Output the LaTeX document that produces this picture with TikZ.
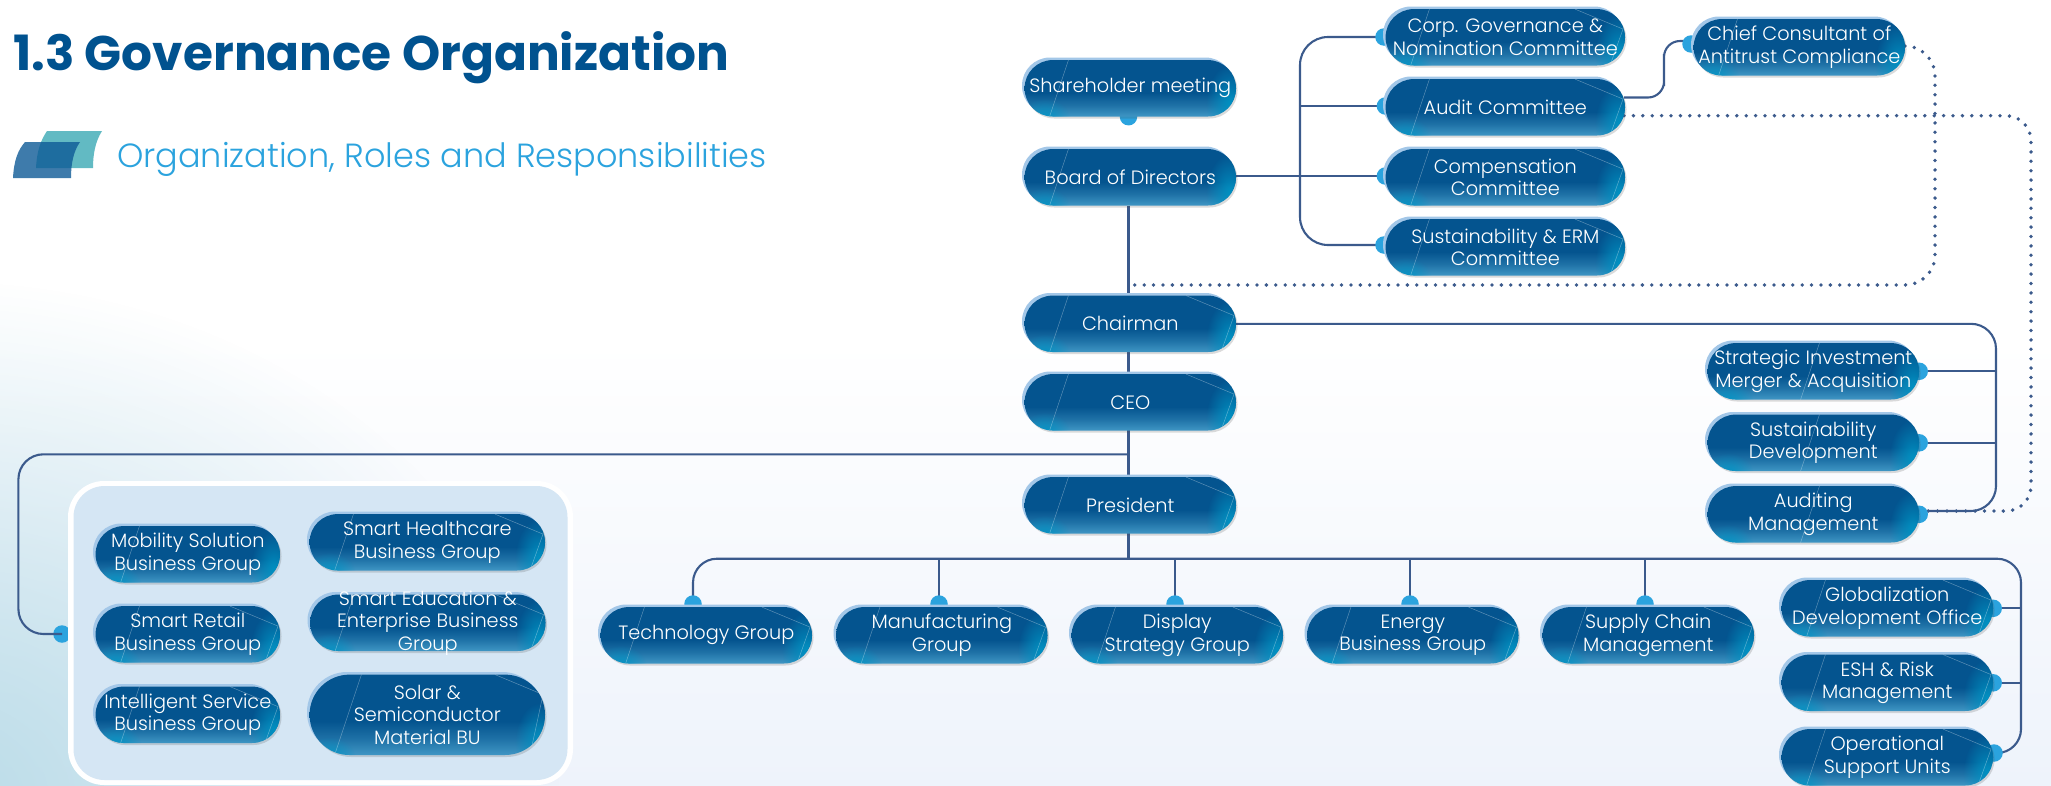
\documentclass[tikz,border=0pt]{standalone}
\usepackage{fontspec}
\setmainfont{Poppins}
\newfontfamily\pilllight{Poppins Light}
\usetikzlibrary{shadows,fadings,calc}
\definecolor{pillbase}{HTML}{04548F}
\definecolor{pillglow}{HTML}{3F96C4}
\definecolor{pillteal}{HTML}{0091C2}
\definecolor{pillrim}{HTML}{A3C7E8}
\definecolor{linkblue}{HTML}{3B5A8C}
\definecolor{dotblue}{HTML}{2BA3DE}
\definecolor{titleblue}{HTML}{00528F}
\definecolor{panelblue}{HTML}{D5E6F4}
\definecolor{cornerblue}{HTML}{BADCE8}
\definecolor{floorblue}{HTML}{EEF3FB}
\definecolor{iconback}{HTML}{62BAC3}
\definecolor{iconfront}{HTML}{0E5A96}
\pgfdeclarelayer{sky}
\pgfdeclarelayer{links}
\pgfsetlayers{sky,links,main}
\pgfdeclareverticalshading{pillshade}{100bp}{color(0bp)=(pillglow); color(25bp)=(pillglow); color(35bp)=(pillbase!55!pillglow); color(46bp)=(pillbase); color(100bp)=(pillbase)}
\tikzfading[name=cornerfade, inner color=transparent!0, outer color=transparent!100]
\tikzset{
  slash at/.store in=\slashat, slash at=25pt,
  tail opacity/.store in=\tailopacity, tail opacity=.35,
  notail/.style={tail opacity=0},
  centreslash/.style={slash at=93pt, notail},
  multi/.style={execute at begin node=\rule{0pt}{19pt}},
  pill/.style={rectangle, rounded corners=28pt, shading=pillshade, shade, text=white, align=center,
    minimum width=211.4pt, minimum height=56.4pt, inner sep=0pt, xshift=1.3pt, yshift=-1.3pt,
    font=\fontsize{19.3}{22.5}\selectfont\pilllight,
    preaction={fill=pillrim, transform canvas={shift={(-2.6pt,2.6pt)}}},
    drop shadow={shadow xshift=1.5pt, shadow yshift=-2pt, opacity=.2, fill=black!70},
    path picture={
      \coordinate (bl) at (path picture bounding box.south west);
      \coordinate (br) at (path picture bounding box.south east);
      \coordinate (tr) at (path picture bounding box.north east);
      \fill[sharp corners, pillteal, path fading=cornerfade] ($(br)+(-6pt,12pt)$) ellipse (24pt and 40pt);
      \fill[sharp corners, pillteal, path fading=cornerfade] ($(bl)+(20pt,-2pt)$) ellipse (26pt and 20pt);
      \draw[sharp corners, white, opacity=.35, line width=.5pt] ($(bl)+(\slashat,0pt)$) -- ++(30pt,90pt);
      \draw[sharp corners, white, opacity=\tailopacity, line width=.5pt] ($(tr)+(-50pt,0pt)$) -- ($(tr)+(-2pt,-20pt)$) -- ($(br)+(-15pt,0pt)$);
    }},
  link/.style={draw=linkblue, line width=2.1pt},
  dotlink/.style={draw=linkblue, line width=3.8pt, line cap=round, dash pattern=on 0pt off 9.4pt},
  joint/.style={circle, fill=dotblue, minimum size=17.5pt, inner sep=0pt},
}
\begin{document}
\begin{tikzpicture}[x=1pt,y=-1pt]
\useasboundingbox (0,0) rectangle (2051,785);
\begin{pgfonlayer}{sky}
\fill[white] (0,0) rectangle (2051,785);
\shade[top color=white, bottom color=floorblue] (0,340) rectangle (2051,785);
\begin{scope}
\clip (0,0) rectangle (2051,785);
\fill[cornerblue, path fading=cornerfade] (-60,800) ellipse (620 and 520);
\end{scope}
\end{pgfonlayer}
\node[anchor=base west, inner sep=0pt, text=titleblue, font=\fontsize{48.6}{48}\selectfont\bfseries] (title) at (13,70) {1.3 Governance Organization};
\node[anchor=base west, inner sep=0pt, text=dotblue, font=\fontsize{33.5}{33.5}\selectfont\pilllight] (subtitle) at (117,167) {Organization, Roles and Responsibilities};
\fill[iconback] (36,168) .. controls (37,150) and (41,140) .. (47,131) -- (102,131) .. controls (95,142) and (93,155) .. (93,168) -- cycle;
\fill[iconfront, opacity=.8] (13,178) .. controls (14,160) and (18,150) .. (25,142) -- (80,142) .. controls (73,152) and (71,165) .. (71,178) -- cycle;

\node[pill, notail] (shareholder) at (1129,87) {Shareholder meeting};
\node[pill, notail] (board) at (1129,176) {Board of Directors};
\node[pill] (chairman) at (1129,322.5) {Chairman};
\node[pill] (ceo) at (1129,401) {CEO};
\node[pill] (president) at (1129,504) {President};
\node[pill, multi, minimum width=239.4pt] (corp) at (1504,36) {Corp. Governance \&\\Nomination Committee};
\node[pill, minimum width=239.4pt] (audit) at (1504,106) {Audit Committee};
\node[pill, multi, minimum width=239.4pt] (compensation) at (1504,176) {Compensation\\Committee};
\node[pill, multi, minimum width=239.4pt] (erm) at (1504,246) {Sustainability \& ERM\\Committee};
\node[pill, multi, notail] (chief) at (1798,46) {Chief Consultant of\\Antitrust Compliance};
\node[pill, multi, centreslash] (strategic) at (1812,370) {Strategic Investment\\Merger \& Acquisition};
\node[pill, multi, centreslash] (sustain) at (1812,441.5) {Sustainability\\Development};
\node[pill, multi, centreslash] (auditing) at (1812,513) {Auditing\\Management};
\node[pill, multi] (global) at (1886,607) {Globalization\\Development Office};
\node[pill, multi] (esh) at (1886,681.5) {ESH \& Risk\\Management};
\node[pill, multi] (support) at (1886,756) {Operational\\Support Units};
\node[pill] (technology) at (705,634) {Technology Group};
\node[pill, multi] (manufacturing) at (940.5,634) {Manufacturing\\Group};
\node[pill, multi] (display) at (1176,634) {Display\\Strategy Group};
\node[pill, multi] (energy) at (1411.5,634) {Energy\\Business Group};
\node[pill, multi] (supply) at (1647,634) {Supply Chain\\Management};
\node[pill, multi, notail, minimum width=184.4pt] (mobility) at (186.5,553) {Mobility Solution\\Business Group};
\node[pill, multi, minimum width=184.4pt] (retail) at (186.5,633) {Smart Retail\\Business Group};
\node[pill, multi, minimum width=184.4pt] (service) at (186.5,713.5) {Intelligent Service\\Business Group};
\node[pill, multi, minimum width=235.4pt] (healthcare) at (426,541) {Smart Healthcare\\Business Group};
\node[pill, multi, minimum width=235.4pt, inner ysep=-8pt] (education) at (426.5,621.5) {Smart Education \&\\Enterprise Business\\Group};
\node[pill, multi, minimum width=235.4pt, minimum height=80.4pt, rounded corners=40pt] (solar) at (426,713.5) {Solar \&\\Semiconductor\\Material BU};

\coordinate (corpin) at (1384,37);
\coordinate (ermin) at (1384,245);
\coordinate (committeebus) at (1300,106);
\coordinate (boardout) at (1236,176);
\coordinate (auditout) at (1624,97.5);
\coordinate (chiefin) at (1691,41);
\coordinate (chiefbend) at (1664,70);
\coordinate (chiefjoint) at (1691,44);
\coordinate (auditdots) at (1624,115.7);
\coordinate (chiefdots) at (1905,46);
\coordinate (dotsbend) at (1935,285);
\coordinate (auditbend) at (2031,511);
\coordinate (chairbus) at (1996,511);
\coordinate (auditingout) at (1919,511);
\coordinate (groupbus) at (1128.5,558.7);
\coordinate (techin) at (693,604);
\coordinate (manuin) at (939,604);
\coordinate (dispin) at (1175,604);
\coordinate (enerin) at (1410,604);
\coordinate (supin) at (1645,604);
\coordinate (busright) at (2021,753);
\coordinate (supportin) at (1994,753);
\coordinate (ceobus) at (1128.5,454.3);
\coordinate (panelin) at (62,634);
\coordinate (panelbus) at (18.4,634);

\begin{pgfonlayer}{links}
\draw[link, rounded corners=28pt] (corpin) -| (committeebus) |- (ermin);
\draw[link] (committeebus) -- (committeebus -| audit.west);
\draw[link] (boardout) -- (boardout -| compensation.west);
\draw[link, rounded corners=16pt] (auditout) -| (chiefbend) |- (chiefin);
\draw[dotlink, rounded corners=25pt] (auditdots) -| (auditbend) -- (auditingout);
\draw[dotlink, rounded corners=30pt] (chiefdots) -| (dotsbend) -- (dotsbend -| groupbus);
\draw[link] (board.south -| groupbus) -- (groupbus);
\draw[link, rounded corners=25pt] (chairman.east) -| (chairbus) -- (auditingout);
\draw[link] (strategic.east) -- (strategic.east -| chairbus);
\draw[link] (sustain.east) -- (sustain.east -| chairbus);
\draw[link, rounded corners=25pt] (ceobus) -| (panelbus) -- (panelin);
\draw[link, rounded corners=24pt] (techin) |- (groupbus -| busright) -- (busright) -- (supportin);
\draw[link] (manuin) -- (manuin |- groupbus);
\draw[link] (dispin) -- (dispin |- groupbus);
\draw[link] (enerin) -- (enerin |- groupbus);
\draw[link] (supin) -- (supin |- groupbus);
\draw[link] (global.east) -- (global.east -| busright);
\draw[link] (esh.east) -- (esh.east -| busright);
\node[joint] (jshare) at (shareholder.south -| groupbus) {};
\node[joint] (jcorp) at (corpin) {};
\node[joint] (jaudit) at (committeebus -| audit.west) {};
\node[joint] (jcomp) at (boardout -| compensation.west) {};
\node[joint] (jerm) at (ermin) {};
\node[joint] (jchief) at (chiefjoint) {};
\node[joint] (jstrat) at (strategic.east) {};
\node[joint] (jsust) at (sustain.east) {};
\node[joint] (jaudg) at (auditing.east) {};
\node[joint] (jtech) at (techin) {};
\node[joint] (jmanu) at (manuin) {};
\node[joint] (jdisp) at (dispin) {};
\node[joint] (jener) at (enerin) {};
\node[joint] (jsup) at (supin) {};
\node[joint] (jglob) at (global.east) {};
\node[joint] (jesh) at (esh.east) {};
\node[joint] (jsupp) at (supportin) {};
\end{pgfonlayer}
\begin{pgfonlayer}{sky}
\node[joint] (jpanel) at (panelin) {};
\fill[white, rounded corners=36pt] (68,481) rectangle (573,785);
\fill[panelblue, rounded corners=31pt] (73.5,486) rectangle (567.5,780);
\end{pgfonlayer}
\end{tikzpicture}
\end{document}
